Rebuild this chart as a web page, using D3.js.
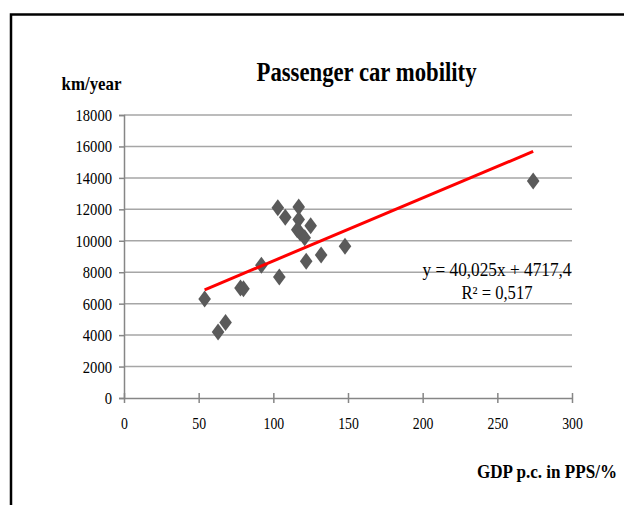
<!DOCTYPE html>
<html>
<head>
<meta charset="utf-8">
<script src="https://cdn.jsdelivr.net/npm/d3@7/dist/d3.min.js"></script>
<style>
  html, body { margin: 0; padding: 0; background: #fff; }
  svg { display: block; }
  text { font-family: "Liberation Serif", "Times New Roman", serif; fill: #000; }
</style>
</head>
<body>
<svg id="chart" width="624" height="505"></svg>
<script>
// ---- data ----
const gdp = [54, 63, 68, 78, 80, 92, 104, 103, 108, 117, 117, 125, 116, 118, 121, 122, 132, 148, 274];
const kmYear = [6300, 4200, 4800, 7000, 6950, 8450, 7700, 12100, 11500, 12150, 11350, 10950, 10700, 10500, 10200, 8700, 9100, 9650, 13800];
const xTicks = [0, 50, 100, 150, 200, 250, 300];
const yTicks = [0, 2000, 4000, 6000, 8000, 10000, 12000, 14000, 16000, 18000];
const trendSlope = 40.025;
const trendIntercept = 4717.4;
const equationText = "y = 40,025x + 4717,4";
const r2Text = "R² = 0,517";
const titleText = "Passenger car mobility";
const yTitle = "km/year";
const xTitle = "GDP p.c. in PPS/%";

const svg = d3.select("#chart");
const x = d3.scaleLinear().domain([0, 300]).range([124, 572]);
const y = d3.scaleLinear().domain([0, 18000]).range([398, 115]);

// frame (cut by the window at right and bottom)
svg.append("path")
  .attr("d", "M11,520 L11,14.5 L640,14.5")
  .attr("fill", "none").attr("stroke", "#000").attr("stroke-width", 2.5);

// gridlines
svg.append("g").selectAll("line").data(yTicks.filter(d => d > 0)).join("line")
  .attr("x1", x(0)).attr("x2", x(300))
  .attr("y1", d => y(d)).attr("y2", d => y(d))
  .attr("stroke", "#a6a6a6").attr("stroke-width", 1.5);

// y axis
const yAxis = svg.append("g").attr("transform", `translate(${x(0)},0)`)
  .call(d3.axisLeft(y).tickValues(yTicks).tickSize(5).tickPadding(7).tickFormat(d3.format("d")));
yAxis.attr("font-family", null);
yAxis.select(".domain").attr("stroke", "#868686").attr("stroke-width", 1.5);
yAxis.selectAll(".tick line").attr("stroke", "#868686").attr("stroke-width", 1.5);
yAxis.selectAll(".tick text")
  .attr("font-size", 17).style("font-family", "'Liberation Serif', serif").attr("fill", "#000")
  .attr("textLength", d => String(d).length * 7.3).attr("lengthAdjust", "spacingAndGlyphs");

// x axis
const xAxis = svg.append("g").attr("transform", `translate(0,${y(0)})`)
  .call(d3.axisBottom(x).tickValues(xTicks).tickSizeInner(5).tickSizeOuter(0).tickPadding(14).tickFormat(d3.format("d")));
xAxis.attr("font-family", null);
xAxis.select(".domain").attr("stroke", "#868686").attr("stroke-width", 1.5);
xAxis.selectAll(".tick line").attr("y1", -5).attr("y2", 5).attr("stroke", "#868686").attr("stroke-width", 1.5);
xAxis.selectAll(".tick text")
  .attr("font-size", 17).style("font-family", "'Liberation Serif', serif").attr("fill", "#000")
  .attr("textLength", d => String(d).length * 6.9).attr("lengthAdjust", "spacingAndGlyphs");

// points (diamonds)
const pts = gdp.map((g, i) => ({ gx: g, ky: kmYear[i] }));
svg.append("g").selectAll("path").data(pts).join("path")
  .attr("d", d => {
    const cx = x(d.gx), cy = y(d.ky);
    return `M${cx},${cy - 8.5} L${cx + 6.3},${cy} L${cx},${cy + 8.5} L${cx - 6.3},${cy} Z`;
  })
  .attr("fill", "#5a5a5a");

// trendline
const xMin = d3.min(gdp), xMax = d3.max(gdp);
svg.append("line")
  .attr("x1", x(xMin)).attr("y1", y(trendSlope * xMin + trendIntercept))
  .attr("x2", x(xMax)).attr("y2", y(trendSlope * xMax + trendIntercept))
  .attr("stroke", "#ff0000").attr("stroke-width", 3);

// equation labels
svg.append("text").attr("x", 497).attr("y", 276).attr("text-anchor", "middle")
  .attr("font-size", 18).attr("textLength", 149).attr("lengthAdjust", "spacingAndGlyphs")
  .text(equationText);
svg.append("text").attr("x", 497).attr("y", 299).attr("text-anchor", "middle")
  .attr("font-size", 18).attr("textLength", 71).attr("lengthAdjust", "spacingAndGlyphs")
  .text(r2Text);

// titles
svg.append("text").attr("x", 366.5).attr("y", 81).attr("text-anchor", "middle")
  .attr("font-size", 27).attr("font-weight", "bold")
  .attr("textLength", 220).attr("lengthAdjust", "spacingAndGlyphs")
  .text(titleText);
svg.append("text").attr("x", 61.5).attr("y", 90)
  .attr("font-size", 19).attr("font-weight", "bold")
  .attr("textLength", 60).attr("lengthAdjust", "spacingAndGlyphs")
  .text(yTitle);
svg.append("text").attr("x", 477).attr("y", 478)
  .attr("font-size", 19).attr("font-weight", "bold")
  .attr("textLength", 140).attr("lengthAdjust", "spacingAndGlyphs")
  .text(xTitle);
</script>
</body>
</html>
